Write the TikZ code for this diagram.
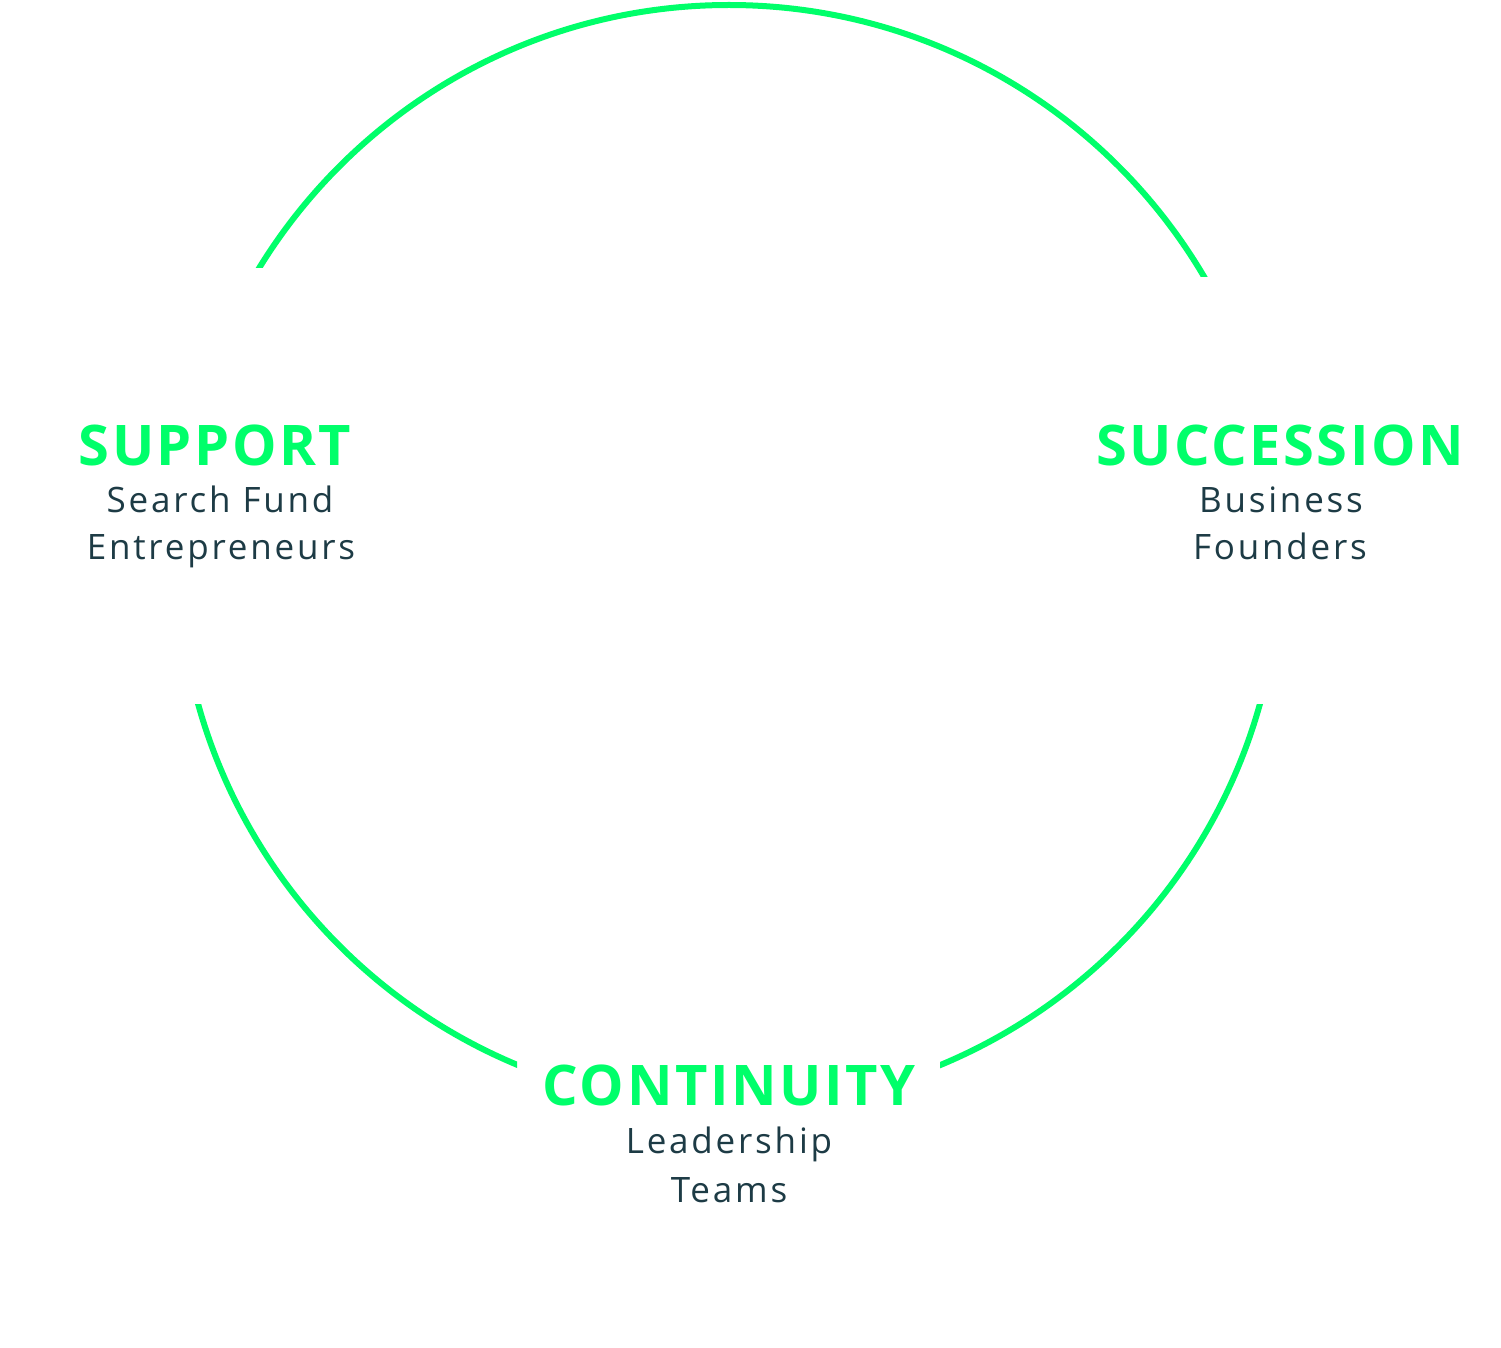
\documentclass[tikz,border=0pt]{standalone}
\usepackage{fontspec}
\setmainfont{Open Sans}
\newfontfamily\headfont[LetterSpace=4.5]{Open Sans}
\newfontfamily\subfont[LetterSpace=8]{Open Sans}
\definecolor{brandgreen}{HTML}{00FF6A}
\definecolor{inkdark}{HTML}{1D3B45}
\begin{document}
\begin{tikzpicture}[x=1pt,y=-1pt,
  ring/.style={draw=brandgreen,line width=6pt},
  head/.style={anchor=base,inner sep=0pt,text=brandgreen,font=\headfont\fontsize{56}{60}\selectfont\bfseries},
  sub/.style={anchor=base,inner sep=0pt,text=inkdark,font=\subfont\fontsize{35}{47}\selectfont}]
\useasboundingbox (0,0) rectangle (1501,1348);
\coordinate (c) at (729,556);
\begin{scope}
  \clip (0,0) -- (1501,0) -- (1501,277) -- (729,277) -- (729,268) -- (0,268) -- cycle;
  \draw[ring] (c) circle[radius=551];
\end{scope}
\begin{scope}
  \clip (0,704) rectangle (517,1348);
  \draw[ring] (c) circle[radius=551];
\end{scope}
\begin{scope}
  \clip (940,704) rectangle (1501,1348);
  \draw[ring] (c) circle[radius=551];
\end{scope}
\node[head] (supH) at (215,465) {SUPPORT};
\node[sub] (supA) at (220,512) {Search Fund};
\node[sub] (supB) at (221,559) {Entrepreneurs};
\node[head] (sucH) at (1280,465) {SUCCESSION};
\node[sub] (sucA) at (1281,512) {Business};
\node[sub] (sucB) at (1280,559) {Founders};
\node[head] (conH) at (729,1105) {CONTINUITY};
\node[sub] (conA) at (729,1153) {Leadership};
\node[sub] (conB) at (729,1202) {Teams};
\end{tikzpicture}
\end{document}
